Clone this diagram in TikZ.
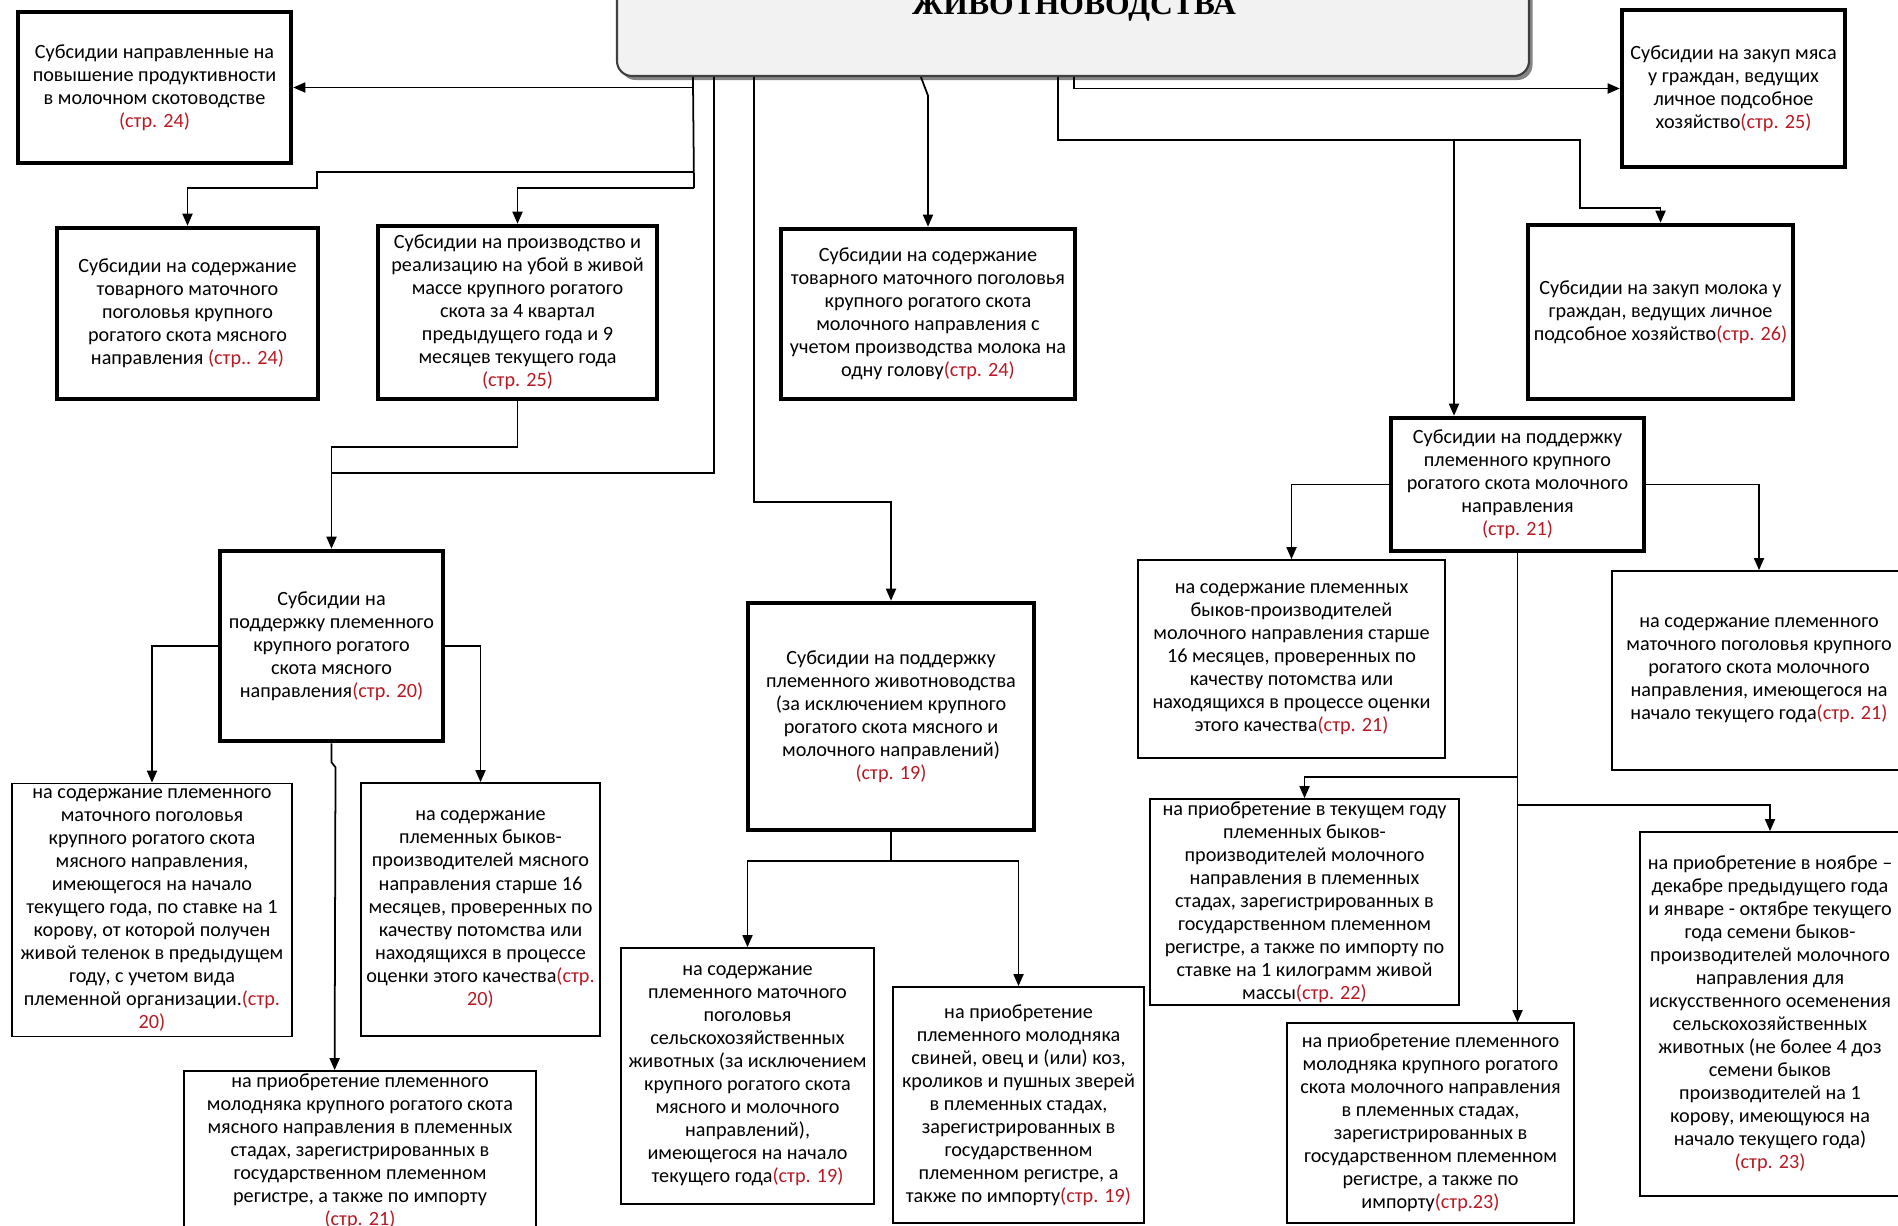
\documentclass[tikz,border=0pt]{standalone}
\usepackage{fontspec}
\setmainfont{Carlito}
\newfontfamily\titlefont{Liberation Serif}
\usetikzlibrary{arrows.meta, calc, shadows}

\definecolor{pagered}{RGB}{185,25,35}
\definecolor{titlefill}{RGB}{242,242,242}
\newcommand\stp[1]{\textcolor{pagered}{#1}}

\tikzset{
  mainbox/.style = {draw, line width = 2.6pt, align = center, inner sep = 1pt,
    font = \fontsize{11.5}{13.1}\selectfont},
  leafbox/.style = {mainbox, line width = 1pt},
  boxsize/.style 2 args = {minimum width = #1*.2mm, minimum height = #2*.2mm},
  titlebox/.style = {draw = black!75, line width = 1.2pt, fill = titlefill,
    rounded corners = 3mm,
    drop shadow = {shadow xshift = .7mm, shadow yshift = -.8mm, fill = black!60, opacity = .8}},
  arr/.style = {-{Triangle[length = 2.4mm, width = 2mm]}, line width = 1pt}
}

\begin{document}
\begin{tikzpicture}
        [x = .2mm, y = -.2mm, line width = 1pt]

        \useasboundingbox (0,0) rectangle (1898,1225);
        \clip (0,0) rectangle (1898,1225);

        \node[titlebox, boxsize = {912}{136}] (title) at (1073,8) {};
        \node[font = \titlefont\bfseries\fontsize{18}{18}\selectfont, anchor = base] (titletext)
          at (1074,14.5) {ЖИВОТНОВОДСТВА};

        % first row
        \node[mainbox, boxsize = {273}{151}] (A) at (154.5,87.5)
          {Субсидии направленные на\\повышение продуктивности\\в молочном скотоводстве\\\stp{(стр. 24)}};
        \node[mainbox, boxsize = {223}{157}] (E) at (1733.5,88.5)
          {Субсидии на закуп мяса\\у граждан, ведущих\\личное подсобное\\хозяйство\stp{(стр. 25)}};
        \node[mainbox, boxsize = {261}{171}] (B) at (187.5,313.5)
          {Субсидии на содержание\\товарного маточного\\поголовья крупного\\рогатого скота мясного\\направления \stp{(стр.. 24)}};
        \node[mainbox, boxsize = {279}{173}] (C) at (517.5,312.5)
          {Субсидии на производство и\\реализацию на убой в живой\\массе крупного рогатого\\скота за 4 квартал\\предыдущего года и 9\\месяцев текущего года\\\stp{(стр. 25)}};
        \node[mainbox, boxsize = {294}{170}] (D) at (928,314)
          {Субсидии на содержание\\товарного маточного поголовья\\крупного рогатого скота\\молочного направления с\\учетом производства молока на\\одну голову\stp{(стр. 24)}};
        \node[mainbox, boxsize = {265}{174}] (F) at (1660.5,312)
          {Субсидии на закуп молока у\\граждан, ведущих личное\\подсобное хозяйство\stp{(стр. 26)}};

        % breeding support
        \node[mainbox, boxsize = {253}{133}] (G) at (1517.5,484.5)
          {Субсидии на поддержку\\племенного крупного\\рогатого скота молочного\\направления\\\stp{(стр. 21)}};
        \node[mainbox, boxsize = {223}{190}] (H) at (331.5,646)
          {Субсидии на\\поддержку племенного\\крупного рогатого\\скота мясного\\направления\stp{(стр. 20)}};
        \node[mainbox, boxsize = {286}{227}] (I) at (891,716.5)
          {Субсидии на поддержку\\племенного животноводства\\(за исключением крупного\\рогатого скота мясного и\\молочного направлений)\\\stp{(стр. 19)}};

        % leaves
        \node[leafbox, boxsize = {280}{253}] (H1) at (152,910)
          {на содержание племенного\\маточного поголовья\\крупного рогатого скота\\мясного направления,\\имеющегося на начало\\текущего года, по ставке на 1\\корову, от которой получен\\живой теленок в предыдущем\\году, с учетом вида\\племенной организации.\stp{(стр.}\\\stp{20)}};
        \node[leafbox, boxsize = {239}{253}] (H2) at (480.5,909.5)
          {на содержание\\племенных быков-\\производителей мясного\\направления старше 16\\месяцев, проверенных по\\качеству потомства или\\находящихся в процессе\\оценки этого качества\stp{(стр.}\\\stp{20)}};
        \node[leafbox, boxsize = {352}{161}] (H3) at (360,1151.5)
          {на приобретение племенного\\молодняка крупного рогатого скота\\мясного направления в племенных\\стадах, зарегистрированных в\\государственном племенном\\регистре, а также по импорту\\\stp{(стр. 21)}};
        \node[leafbox, boxsize = {253}{256}] (I1) at (747.5,1076)
          {на содержание\\племенного маточного\\поголовья\\сельскохозяйственных\\животных (за исключением\\крупного рогатого скота\\мясного и молочного\\направлений),\\имеющегося на начало\\текущего года\stp{(стр. 19)}};
        \node[leafbox, boxsize = {251}{236}] (I2) at (1018.5,1105)
          {на приобретение\\племенного молодняка\\свиней, овец и (или) коз,\\кроликов и пушных зверей\\в племенных стадах,\\зарегистрированных в\\государственном\\племенном регистре, а\\также по импорту\stp{(стр. 19)}};
        \node[leafbox, boxsize = {307}{198}] (G1) at (1291.5,659)
          {на содержание племенных\\быков-производителей\\молочного направления старше\\16 месяцев, проверенных по\\качеству потомства или\\находящихся в процессе оценки\\этого качества\stp{(стр. 21)}};
        \node[leafbox, boxsize = {294}{199}] (G2) at (1759,670.5)
          {на содержание племенного\\маточного поголовья крупного\\рогатого скота молочного\\направления, имеющегося на\\начало текущего года\stp{(стр. 21)}};
        \node[leafbox, boxsize = {309}{206}] (G3) at (1304.5,902)
          {на приобретение в текущем году\\племенных быков-\\производителей молочного\\направления в племенных\\стадах, зарегистрированных в\\государственном племенном\\регистре, а также по импорту по\\ставке на 1 килограмм живой\\массы\stp{(стр. 22)}};
        \node[leafbox, boxsize = {287}{200}] (G4) at (1430.5,1123)
          {на приобретение племенного\\молодняка крупного рогатого\\скота молочного направления\\в племенных стадах,\\зарегистрированных в\\государственном племенном\\регистре, а также по\\импорту\stp{(стр.23)}};
        \node[leafbox, boxsize = {260}{364}] (G5) at (1770,1014)
          {на приобретение в ноябре –\\декабре предыдущего года\\и январе - октябре текущего\\года семени быков-\\производителей молочного\\направления для\\искусственного осеменения\\сельскохозяйственных\\животных (не более 4 доз\\семени быков\\производителей на 1\\корову, имеющуюся на\\начало текущего года)\\\stp{(стр. 23)}};

        % lines out of the title
        \coordinate (tA) at ($(title.south west)+(77,0)$);
        \coordinate (tH) at ($(title.south west)+(98,0)$);
        \coordinate (tI) at ($(title.south west)+(138,0)$);
        \coordinate (tD) at ($(title.south west)+(305,0)$);
        \coordinate (tG) at ($(title.south west)+(442,0)$);
        \coordinate (tE) at ($(title.south west)+(458,0)$);
        \coordinate (jB) at (694,172);
        \coordinate (jC) at (694,188);
        \coordinate (jG) at (1454,140);

        \draw[arr] (tA) |- (A.east);
        \draw (tA) -- (jC);
        \draw[arr] (jB) -- (317,172) -- (317,188) -| (B.north);
        \draw[arr] (jC) -| (C.north);
        \draw (tH) |- ($(H.north)+(0,-76)$);
        \draw[arr] (C.south) -- ++(0,46) -| (H.north);
        \draw[arr] (tI) |- ($(I.north)+(0,-99)$) -- (I.north);
        \draw[arr] (tD) -- ($(D.north)+(0,-131)$) -- (D.north);
        \draw[arr] (tE) |- (E.west);
        \draw[arr] (tG) |- (1580,140) -- (1580,208) -| (F.north);
        \draw[arr] (jG) -- ($(G.north)+(-63.5,0)$);

        % branches below
        \draw[arr] (H.west) -| (H1.north);
        \draw[arr] (H.east) -| (H2.north);
        \draw[arr] (H.south) -- ++(0,19) -- ++(4,5) -- ($(H3.north west)+(151.5,0)$);
        \foreach \kid in {I1, I2}
          \draw[arr] (I.south) -- ++(0,29) -| (\kid.north);
        \draw[arr] (G.west) -| (G1.north);
        \draw[arr] (G.east) -| (G2.north);
        \draw[arr] (G.south) -- (G.south |- G4.north);
        \draw[arr] ($(G.south)+(0,224)$) -| (G3.north);
        \draw[arr] ($(G.south)+(0,252)$) -| (G5.north);
      \end{tikzpicture}
\end{document}
